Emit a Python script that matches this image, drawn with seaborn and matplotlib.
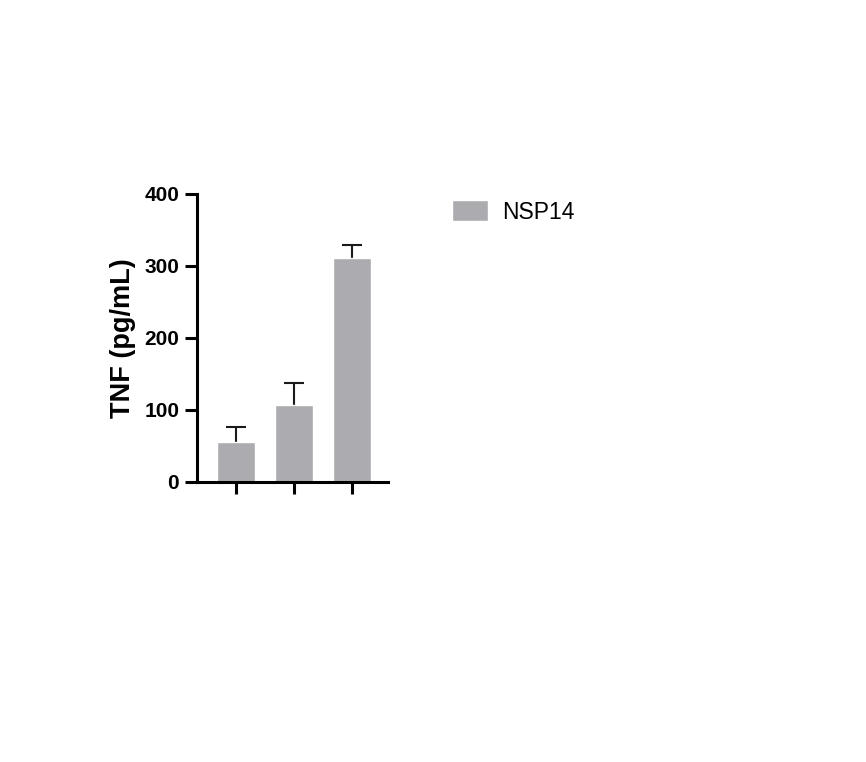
import numpy as np
import pandas as pd
import matplotlib
matplotlib.use("Agg")
import matplotlib.pyplot as plt
import seaborn as sns

# values
groups = ["G1", "G2", "G3"]
tnf_mean = [55.6, 106, 310.7]
tnf_err = [20.4, 31, 18.3]
series_name = "NSP14"
bar_color = "#acacb0"

sns.set_style("white")
plt.rcParams["font.family"] = ["Liberation Sans", "DejaVu Sans"]
plt.rcParams["text.color"] = "black"
plt.rcParams["axes.labelcolor"] = "black"
plt.rcParams["xtick.color"] = "black"
plt.rcParams["ytick.color"] = "black"

df = pd.DataFrame({"group": groups, "TNF": tnf_mean})

fig = plt.figure(figsize=(8.66, 7.62), dpi=100)
ax = fig.add_axes([0.227, 0.368, 0.2215, 0.3775])

sns.barplot(data=df, x="group", y="TNF", color=bar_color, width=0.66,
            errorbar=None, saturation=1, ax=ax, label=series_name)
for p in ax.patches:
    p.set_zorder(2)

# one-sided (upper) error bars
_, caps, _ = ax.errorbar(np.arange(len(groups)), tnf_mean,
                         yerr=[np.zeros(len(groups)), tnf_err],
                         fmt="none", ecolor="#1a1a1a", elinewidth=1.5,
                         capsize=7, capthick=1.5, zorder=1)
caps[0].remove()

ax.set_xlim(-0.69, 2.64)
ax.set_ylim(0, 400)
ax.set_yticks([0, 100, 200, 300, 400])
ax.set_xticks(range(len(groups)))
ax.set_xticklabels([])
ax.set_xlabel("")
ax.set_ylabel("TNF (pg/mL)", fontsize=19.5, fontweight="bold", labelpad=6,
              color="black")

for s in ["top", "right"]:
    ax.spines[s].set_visible(False)
for s in ["left", "bottom"]:
    ax.spines[s].set_linewidth(2.2)
    ax.spines[s].set_color("black")
ax.tick_params(axis="both", direction="out", length=8.5, width=2.2,
               color="black", bottom=True, left=True)
ax.tick_params(axis="y", labelsize=15, pad=4, labelcolor="black")
for t in ax.get_yticklabels():
    t.set_fontweight("bold")

handles, labels = ax.get_legend_handles_labels()
if ax.get_legend():
    ax.get_legend().remove()
fig.legend(handles[:1], [series_name], loc="upper left",
           bbox_to_anchor=(0.522, 0.737), frameon=False, fontsize=16.5,
           handlelength=1.57, handleheight=1.0, handletextpad=0.6,
           borderpad=0, borderaxespad=0, labelcolor="black")

fig.savefig("out.png", dpi=100)
